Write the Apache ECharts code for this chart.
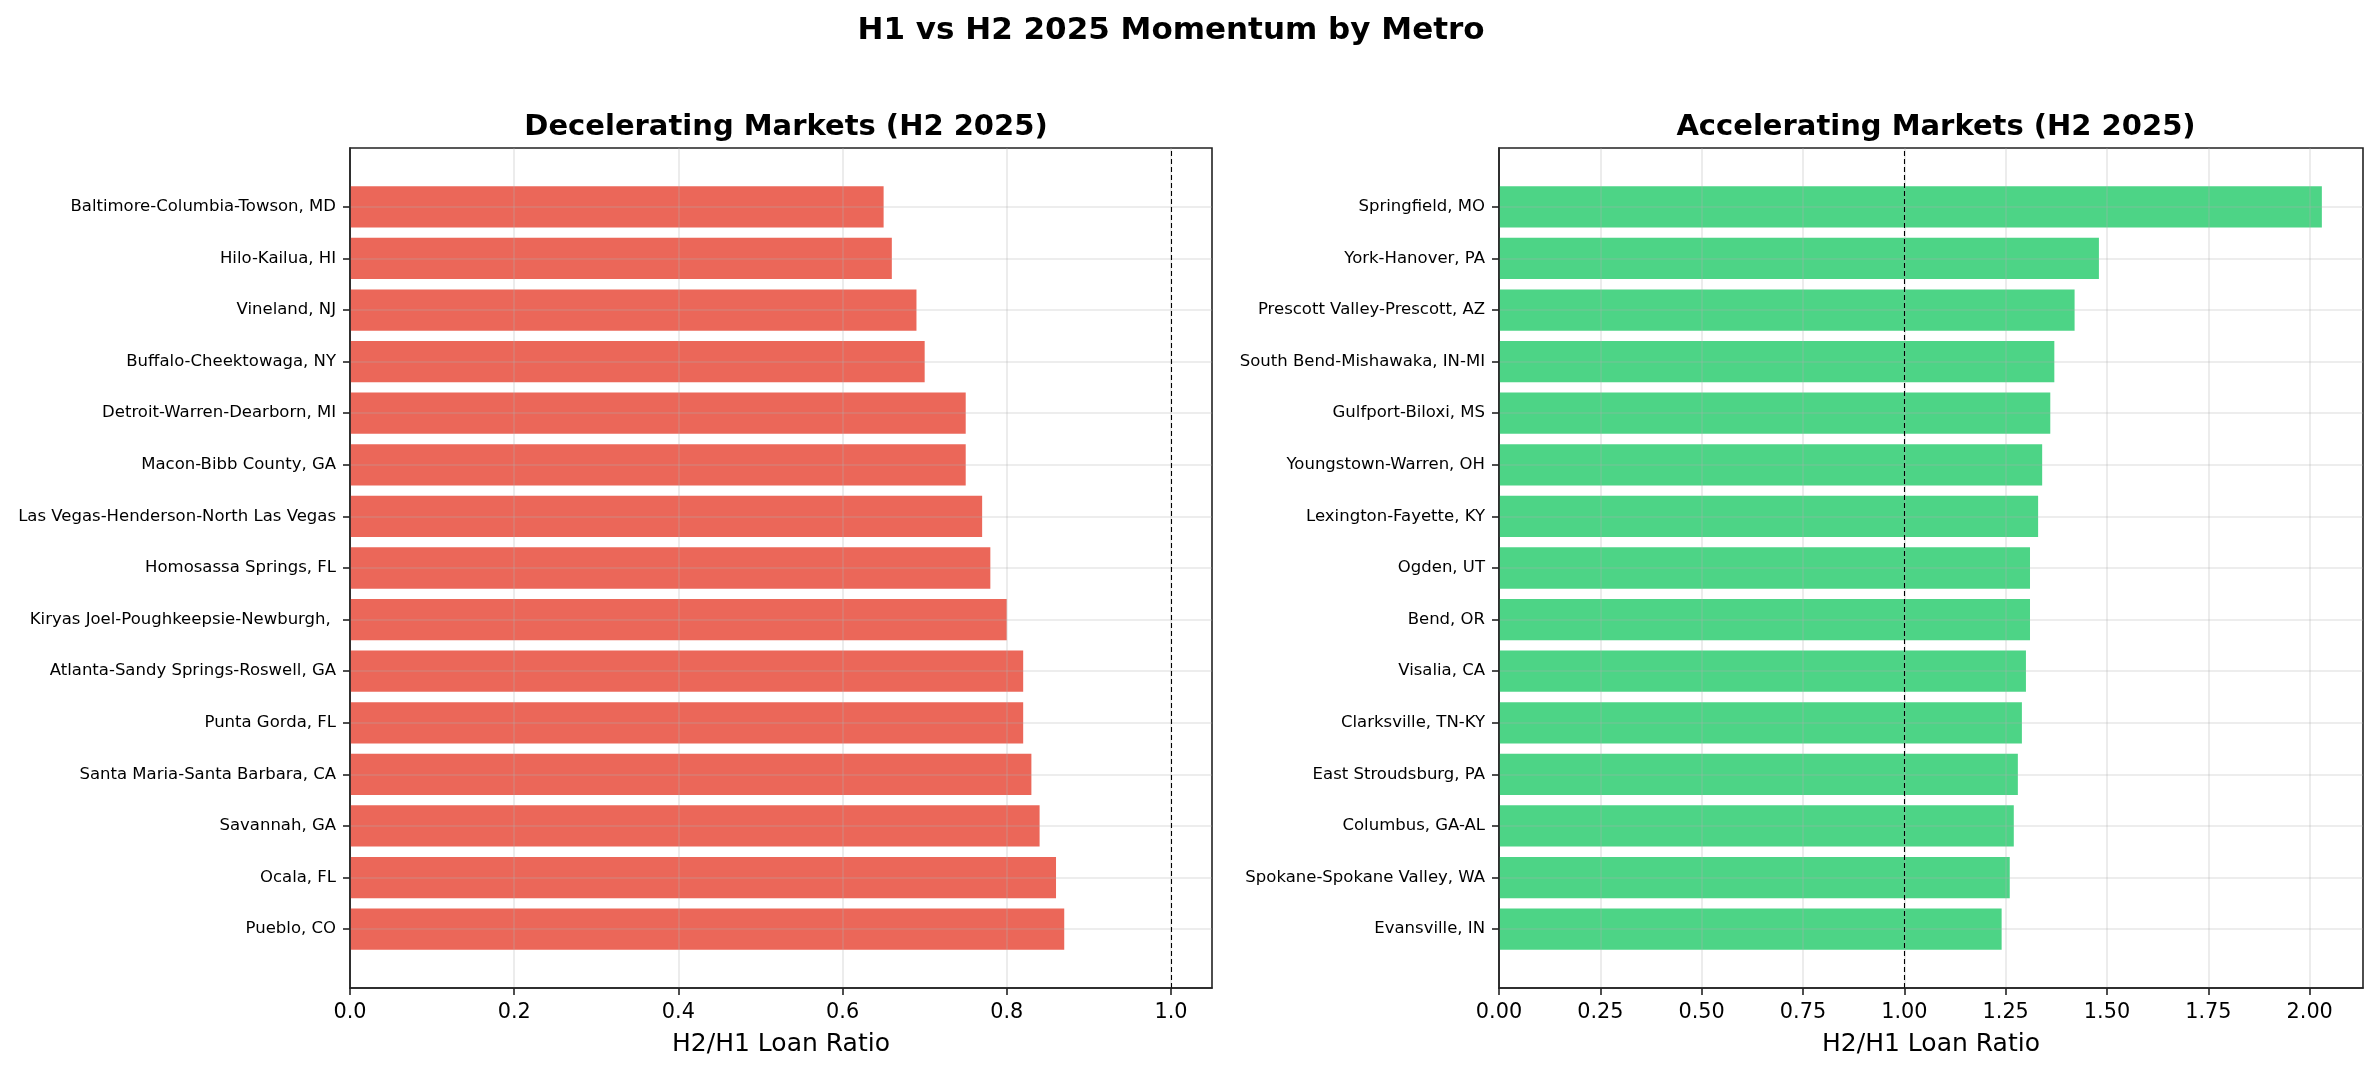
<!DOCTYPE html>
<html>
<head>
<meta charset="utf-8">
<script src="https://cdn.jsdelivr.net/npm/echarts@6/dist/echarts.min.js"></script>
<style>
html,body{margin:0;padding:0;background:#fff;}
#chart{width:2378px;height:1073px;}
</style>
</head>
<body>
<div id="chart"></div>
<script>
// ---- data (listed top to bottom as shown) ----
const decelCategories = [
  "Baltimore-Columbia-Towson, MD",
  "Hilo-Kailua, HI",
  "Vineland, NJ",
  "Buffalo-Cheektowaga, NY",
  "Detroit-Warren-Dearborn, MI",
  "Macon-Bibb County, GA",
  "Las Vegas-Henderson-North Las Vegas",
  "Homosassa Springs, FL",
  "Kiryas Joel-Poughkeepsie-Newburgh, ",
  "Atlanta-Sandy Springs-Roswell, GA",
  "Punta Gorda, FL",
  "Santa Maria-Santa Barbara, CA",
  "Savannah, GA",
  "Ocala, FL",
  "Pueblo, CO"
];
const decelValues = [0.65, 0.66, 0.69, 0.70, 0.75, 0.75, 0.77, 0.78, 0.80, 0.82, 0.82, 0.83, 0.84, 0.86, 0.87];

const accelCategories = [
  "Springfield, MO",
  "York-Hanover, PA",
  "Prescott Valley-Prescott, AZ",
  "South Bend-Mishawaka, IN-MI",
  "Gulfport-Biloxi, MS",
  "Youngstown-Warren, OH",
  "Lexington-Fayette, KY",
  "Ogden, UT",
  "Bend, OR",
  "Visalia, CA",
  "Clarksville, TN-KY",
  "East Stroudsburg, PA",
  "Columbus, GA-AL",
  "Spokane-Spokane Valley, WA",
  "Evansville, IN"
];
const accelValues = [2.03, 1.48, 1.42, 1.37, 1.36, 1.34, 1.33, 1.31, 1.31, 1.30, 1.29, 1.28, 1.27, 1.26, 1.24];

const decelTicks = [0.0, 0.2, 0.4, 0.6, 0.8, 1.0];
const accelTicks = [0.0, 0.25, 0.5, 0.75, 1.0, 1.25, 1.5, 1.75, 2.0];
const decelMax = 1.05;
const accelMax = 2.1315;
const refLine = 1.0;

const suptitle = "H1 vs H2 2025 Momentum by Metro";
const leftTitle = "Decelerating Markets (H2 2025)";
const rightTitle = "Accelerating Markets (H2 2025)";
const xName = "H2/H1 Loan Ratio";

// ---- styles ----
const FONT = "DejaVu Sans";
const SPINE = '#222222';
const GRIDC = 'rgba(176,176,176,0.3)';
const RED = 'rgba(231,76,60,0.85)';
const GREEN = 'rgba(46,204,113,0.85)';

const plotTop = 148, plotH = 840;
const unit = plotH / 16.28;
const barTop = plotTop + 1.14 * unit;
const barH = 14 * unit;
const panels = [
  {left: 350, width: 862, cats: decelCategories, vals: decelValues, ticks: decelTicks, max: decelMax, interval: 0.2, dec: 1, color: RED},
  {left: 1499, width: 864, cats: accelCategories, vals: accelValues, ticks: accelTicks, max: accelMax, interval: 0.25, dec: 2, color: GREEN}
];

const grid = [], xAxis = [], yAxis = [], series = [];
panels.forEach((p, i) => {
  const fi = i * 2, bi = i * 2 + 1;
  grid.push({left: p.left, top: plotTop, width: p.width, height: plotH, show: true, borderColor: SPINE, borderWidth: 1.6, backgroundColor: 'transparent', containLabel: false, outerBoundsMode: 'none'});
  grid.push({left: p.left, top: barTop, width: p.width, height: barH, containLabel: false, outerBoundsMode: 'none'});
  xAxis.push({
    type: 'value', gridIndex: fi, min: 0, max: p.max, interval: p.interval, z: 5,
    name: xName, nameLocation: 'middle', nameGap: 44,
    nameTextStyle: {fontFamily: FONT, fontSize: 25, color: '#000'},
    axisLine: {show: true, lineStyle: {color: SPINE, width: 1.6}},
    axisTick: {show: true, length: 7, lineStyle: {color: SPINE, width: 1.6}, customValues: p.ticks},
    axisLabel: {fontFamily: FONT, fontSize: 20.8, color: '#000', margin: 14, customValues: p.ticks,
      showMaxLabel: true, showMinLabel: true,
      formatter: v => p.ticks.some(t => Math.abs(t - v) < 1e-6) ? Number(v).toFixed(p.dec) : ''},
    splitLine: {show: true, lineStyle: {color: GRIDC, width: 1.6}}
  });
  xAxis.push({type: 'value', gridIndex: bi, min: 0, max: p.max, show: false});
  yAxis.push({
    type: 'value', gridIndex: fi, min: 0, max: 1, z: 5,
    axisLine: {show: true, lineStyle: {color: SPINE, width: 1.6}},
    axisTick: {show: false}, axisLabel: {show: false}, splitLine: {show: false}
  });
  yAxis.push({
    type: 'category', gridIndex: bi, data: p.cats.slice().reverse(), boundaryGap: false, z: 5,
    axisLine: {show: false},
    axisTick: {show: true, length: 7, lineStyle: {color: SPINE, width: 1.6}},
    axisLabel: {fontFamily: FONT, fontSize: 16.5, color: '#000', margin: 14, interval: 0, padding: [6, 0, 0, 0]},
    splitLine: {show: true, interval: 0, lineStyle: {color: GRIDC, width: 1.6}}
  });
  series.push({
    type: 'bar', xAxisIndex: bi, yAxisIndex: bi, data: p.vals.slice().reverse(),
    barWidth: 0.8 * unit, clip: false, z: 2,
    itemStyle: {color: p.color}, silent: true
  });
  series.push({
    type: 'line', xAxisIndex: fi, yAxisIndex: fi, data: [], silent: true, z: 6,
    markLine: {symbol: 'none', silent: true, animation: false, label: {show: false},
      lineStyle: {color: '#000', type: [5, 3], width: 1.1},
      data: [{xAxis: refLine}]}
  });
});

const chart = echarts.init(document.getElementById('chart'), null, {renderer: 'canvas'});
chart.setOption({
  animation: false,
  backgroundColor: '#fff',
  title: [
    {text: suptitle, left: 1166, top: 10, textAlign: 'center', textStyle: {fontFamily: FONT, fontSize: 31, fontWeight: 'bold', color: '#000'}},
    {text: leftTitle, left: 781, top: 108, textAlign: 'center', textStyle: {fontFamily: FONT, fontSize: 29, fontWeight: 'bold', color: '#000'}},
    {text: rightTitle, left: 1931, top: 108, textAlign: 'center', textStyle: {fontFamily: FONT, fontSize: 29, fontWeight: 'bold', color: '#000'}}
  ],
  grid, xAxis, yAxis, series
});
</script>
</body>
</html>
